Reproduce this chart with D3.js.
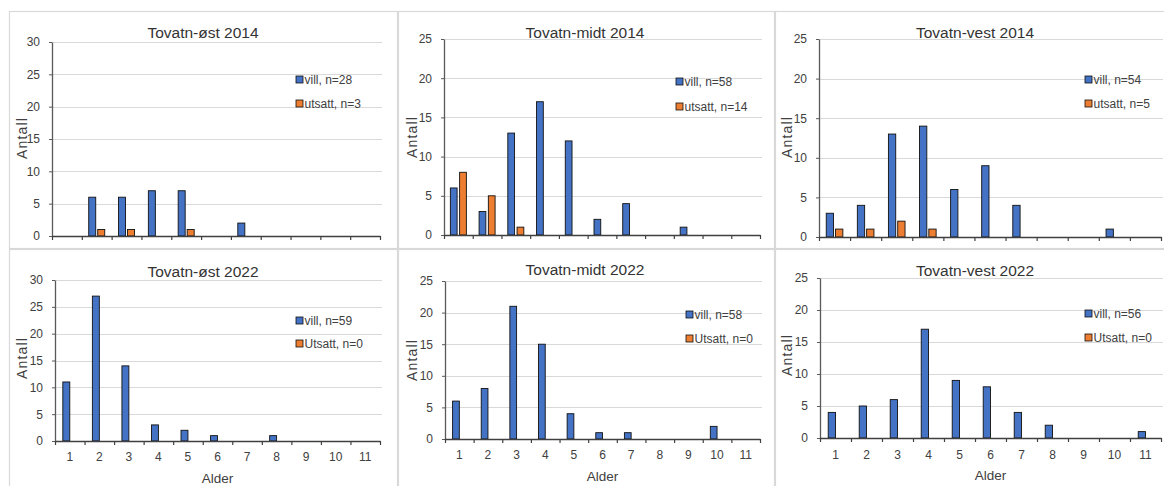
<!DOCTYPE html>
<html>
<head>
<meta charset="utf-8">
<script src="https://cdn.jsdelivr.net/npm/d3@7"></script>
<style>
  html, body { margin: 0; padding: 0; background: #fff; }
  svg { display: block; font-family: "Liberation Sans", Arial, sans-serif; }
</style>
</head>
<body>
<svg id="chart" width="1164" height="486"></svg>
<script>
// Age classes (Alder) and axis ticks
const ages = [1, 2, 3, 4, 5, 6, 7, 8, 9, 10, 11];
const ageLabels = ages.map(String);
const yTicks30 = [0, 5, 10, 15, 20, 25, 30];
const yTicks25 = [0, 5, 10, 15, 20, 25];

// Counts per age class: wild (vill) and stocked (utsatt) fish
const ostVill2014    = [0, 6, 6, 7, 7, 0, 2, 0, 0, 0, 0];
const ostUtsatt2014  = [0, 1, 1, 0, 1, 0, 0, 0, 0, 0, 0];
const midtVill2014   = [6, 3, 13, 17, 12, 2, 4, 0, 1, 0, 0];
const midtUtsatt2014 = [8, 5, 1, 0, 0, 0, 0, 0, 0, 0, 0];
const vestVill2014   = [3, 4, 13, 14, 6, 9, 4, 0, 0, 1, 0];
const vestUtsatt2014 = [1, 1, 2, 1, 0, 0, 0, 0, 0, 0, 0];
const ostVill2022    = [11, 27, 14, 3, 2, 1, 0, 1, 0, 0, 0];
const ostUtsatt2022  = [0, 0, 0, 0, 0, 0, 0, 0, 0, 0, 0];
const midtVill2022   = [6, 8, 21, 15, 4, 1, 1, 0, 0, 2, 0];
const midtUtsatt2022 = [0, 0, 0, 0, 0, 0, 0, 0, 0, 0, 0];
const vestVill2022   = [4, 5, 6, 17, 9, 8, 4, 2, 0, 0, 1];
const vestUtsatt2022 = [0, 0, 0, 0, 0, 0, 0, 0, 0, 0, 0];

const titles = ["Tovatn-øst 2014", "Tovatn-midt 2014", "Tovatn-vest 2014",
                "Tovatn-øst 2022", "Tovatn-midt 2022", "Tovatn-vest 2022"];
const villNames = ["vill", "vill", "vill", "vill", "vill", "vill"];
const utsattNames = ["utsatt", "utsatt", "utsatt", "Utsatt", "Utsatt", "Utsatt"];
const yAxisTitle = "Antall";
const xAxisTitle = "Alder";

const villSeries = [ostVill2014, midtVill2014, vestVill2014, ostVill2022, midtVill2022, vestVill2022];
const utsattSeries = [ostUtsatt2014, midtUtsatt2014, vestUtsatt2014, ostUtsatt2022, midtUtsatt2022, vestUtsatt2022];

const COLOR_VILL = "#4472C4";
const COLOR_UTSATT = "#ED7D31";

// Panel geometry
const layout = [
  { frame: [9, 11, 398, 249], plot: [52, 380, 42, 236], yMax: 30, yTicks: yTicks30,
    title: [203, 38], leg: [296, 76, 100], ant: [22, 138], showX: false, gap: 2 },
  { frame: [398, 11, 775, 249], plot: [444, 760, 39, 235], yMax: 25, yTicks: yTicks25,
    title: [585, 38], leg: [676, 78, 103], ant: [412, 137], showX: false, gap: 2.5 },
  { frame: [775, 11, 1170, 249], plot: [819, 1161, 39, 237], yMax: 25, yTicks: yTicks25,
    title: [975, 38], leg: [1085, 76, 100], ant: [787, 137], showX: false, gap: 2 },
  { frame: [9, 249, 398, 492], plot: [55, 380, 280, 441], yMax: 30, yTicks: yTicks30,
    title: [203, 277], leg: [296, 317, 340], ant: [22, 358], showX: true, labelY: 461, alderY: 483, gap: 0 },
  { frame: [398, 249, 775, 492], plot: [445, 760, 281, 439], yMax: 25, yTicks: yTicks25,
    title: [585, 275], leg: [686, 311, 335], ant: [412, 360], showX: true, labelY: 459, alderY: 481, gap: 0 },
  { frame: [775, 249, 1170, 492], plot: [820, 1161, 278, 438], yMax: 25, yTicks: yTicks25,
    title: [975, 276], leg: [1085, 310, 334], ant: [787, 355], showX: true, labelY: 459, alderY: 480, gap: 0 }
];

const svg = d3.select("#chart");

layout.forEach((L, i) => {
  const g = svg.append("g");
  const [fx0, fy0, fx1, fy1] = L.frame;
  const [px0, px1, pyTop, pyBot] = L.plot;

  // panel frame
  g.append("rect")
    .attr("x", fx0 + 0.5).attr("y", fy0 + 0.5)
    .attr("width", fx1 - fx0 - 1).attr("height", fy1 - fy0 - 1)
    .attr("fill", "#fff").attr("stroke", "#d9d9d9").attr("stroke-width", 1.2);

  const x = d3.scaleBand().domain(ages).range([px0, px1]).padding(0);
  const xEdge = d3.scaleLinear().domain([0.5, 11.5]).range([px0, px1]);
  const y = d3.scaleLinear().domain([0, L.yMax]).range([pyBot, pyTop]);

  // horizontal gridlines
  g.append("g").selectAll("line")
    .data(L.yTicks.filter(t => t > 0))
    .join("line")
    .attr("x1", px0).attr("x2", px1 + 2)
    .attr("y1", d => Math.round(y(d)) + 0.5).attr("y2", d => Math.round(y(d)) + 0.5)
    .attr("stroke", "#d9d9d9").attr("stroke-width", 1);

  // y axis
  const yAxis = g.append("g")
    .attr("transform", `translate(${px0},0)`)
    .call(d3.axisLeft(y).tickValues(L.yTicks).tickSize(3).tickPadding(9).tickSizeOuter(0));
  yAxis.select(".domain").attr("stroke", "#595959").attr("stroke-width", 1.3);
  yAxis.selectAll(".tick line").attr("stroke", "#595959");
  yAxis.selectAll(".tick text")
    .attr("fill", "#404040").style("font-size", "12px")
    .style("font-family", "'Liberation Sans', Arial, sans-serif");

  // bars
  const bw = x.bandwidth() * 0.235;
  const half = L.gap / 2;
  const villData = villSeries[i].map((v, k) => ({ age: ages[k], v }));
  const utsData = utsattSeries[i].map((v, k) => ({ age: ages[k], v }));
  const center = d => x(d.age) + x.bandwidth() / 2;

  g.append("g").selectAll("rect")
    .data(villData.filter(d => d.v > 0))
    .join("rect")
    .attr("x", d => center(d) - half - bw)
    .attr("y", d => y(d.v))
    .attr("width", bw)
    .attr("height", d => y(0) - y(d.v))
    .attr("fill", COLOR_VILL).attr("stroke", "#111").attr("stroke-width", 0.9);

  g.append("g").selectAll("rect")
    .data(utsData.filter(d => d.v > 0))
    .join("rect")
    .attr("x", d => center(d) + half)
    .attr("y", d => y(d.v))
    .attr("width", bw)
    .attr("height", d => y(0) - y(d.v))
    .attr("fill", COLOR_UTSATT).attr("stroke", "#111").attr("stroke-width", 0.9);

  // x axis: ticks on category boundaries
  const xAxis = g.append("g")
    .attr("transform", `translate(0,${pyBot})`)
    .call(d3.axisBottom(xEdge).tickValues(d3.range(0.5, 12, 1)).tickSize(4).tickFormat("").tickSizeOuter(0));
  xAxis.select(".domain").attr("stroke", "#404040").attr("stroke-width", 1.3);
  xAxis.selectAll(".tick line").attr("stroke", "#404040").attr("stroke-width", 1.2);

  if (L.showX) {
    const xLab = g.append("g")
      .attr("transform", `translate(0,${L.labelY})`)
      .call(d3.axisBottom(x).tickSize(0).tickPadding(0).tickFormat((d, k) => ageLabels[k]));
    xLab.select(".domain").remove();
    xLab.selectAll(".tick text")
      .attr("dy", 0).attr("y", 0)
      .attr("fill", "#404040").style("font-size", "12px")
      .style("font-family", "'Liberation Sans', Arial, sans-serif");

    g.append("text")
      .attr("x", (px0 + px1) / 2).attr("y", L.alderY)
      .attr("text-anchor", "middle")
      .attr("fill", "#404040").style("font-size", "13.5px")
      .text(xAxisTitle);
  }

  // title
  g.append("text")
    .attr("x", L.title[0]).attr("y", L.title[1])
    .attr("text-anchor", "middle")
    .attr("fill", "#333").style("font-size", "15.5px")
    .text(titles[i]);

  // y axis title
  g.append("text")
    .attr("transform", `translate(${L.ant[0] + 5},${L.ant[1]}) rotate(-90)`)
    .attr("text-anchor", "middle")
    .attr("fill", "#404040").style("font-size", "14px")
    .style("letter-spacing", "1.2px")
    .text(yAxisTitle);

  // legend
  const legItems = [
    { name: `${villNames[i]}, n=${d3.sum(villSeries[i])}`, color: COLOR_VILL, y: L.leg[1] },
    { name: `${utsattNames[i]}, n=${d3.sum(utsattSeries[i])}`, color: COLOR_UTSATT, y: L.leg[2] }
  ];
  const leg = g.append("g").selectAll("g").data(legItems).join("g");
  leg.append("rect")
    .attr("x", L.leg[0]).attr("y", d => d.y)
    .attr("width", 7).attr("height", 7)
    .attr("fill", d => d.color).attr("stroke", "#111").attr("stroke-width", 0.8);
  leg.append("text")
    .attr("x", L.leg[0] + 8.5).attr("y", d => d.y + 8)
    .attr("fill", "#404040").style("font-size", "12px")
    .text(d => d.name);
});
</script>
</body>
</html>
